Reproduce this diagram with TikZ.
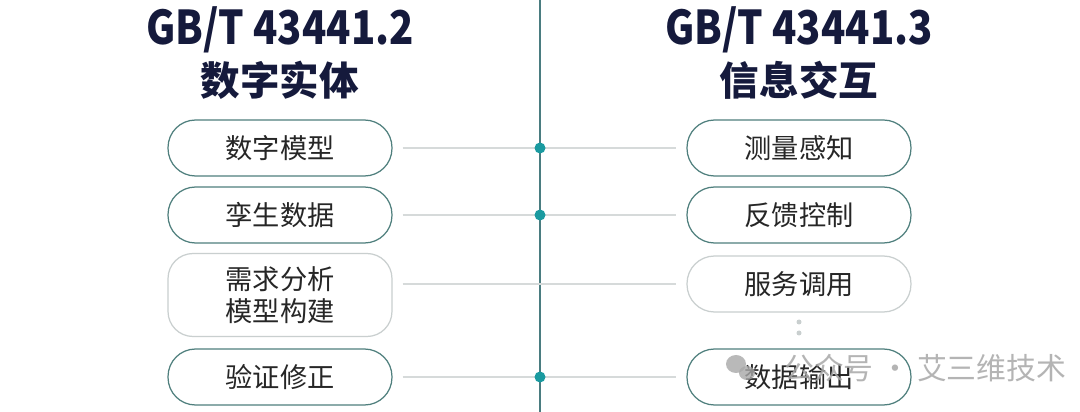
\documentclass[tikz,border=0pt]{standalone}
\usepackage{fontspec}
\newfontfamily\cjk{Noto Sans CJK SC}
\newfontfamily\titlefont{Noto Sans CJK SC}[FakeStretch=0.86]
\definecolor{navy}{HTML}{151A3C}
\definecolor{tealdot}{HTML}{1A9AA0}
\definecolor{axisline}{HTML}{4A7C80}
\definecolor{pillline}{HTML}{4F7F7D}
\definecolor{softline}{HTML}{C9CFCF}
\definecolor{linkline}{HTML}{D6DADA}
\definecolor{labeltext}{HTML}{262626}
\definecolor{markgray}{HTML}{A8A8A8}
\tikzset{
    pill/.style={draw=pillline, line width=0.7pt, fill=white, rounded corners=0.55cm,
        minimum width=4.48cm, minimum height=1.12cm, align=center,
        text=labeltext, font=\cjk\fontsize{15.5}{19}\selectfont},
    softpill/.style={pill, draw=softline},
    link/.style={linkline, line width=0.6pt, shorten <=0.2cm, shorten >=0.2cm},
    heading/.style={text=navy, align=center},
}
\begin{document}
\begin{tikzpicture}[x=0.02cm,y=-0.02cm]
    \useasboundingbox[fill=white] (0,0) rectangle (1080,412);
    %draw axis
    \coordinate (top) at (540,0);
    \coordinate (bottom) at (540,412);
    \draw [axisline, line width=0.8pt] (top) -- (bottom);
    %draw headings
    \node[heading, font=\titlefont\bfseries\fontsize{26.5}{30}\selectfont] (lt) at (280,30) {GB/T 43441.2};
    \node[heading, font=\cjk\bfseries\fontsize{22.5}{26}\selectfont] (lsub) at (280,80) {数字实体};
    \node[heading, font=\titlefont\bfseries\fontsize{26.5}{30}\selectfont] (rt) at (799,30) {GB/T 43441.3};
    \node[heading, font=\cjk\bfseries\fontsize{22.5}{26}\selectfont] (rsub) at (799,80) {信息交互};
    %draw left items
    \node[pill] (L1) at (280,148) {数字模型};
    \node[pill] (L2) at (280,215) {孪生数据};
    \node[softpill, minimum height=1.66cm, rounded corners=0.5cm] (L3) at (280,295) {需求分析\\[-1pt]模型构建};
    \node[pill] (L4) at (280,377) {验证修正};
    %draw right items
    \node[pill] (R1) at (799,148) {测量感知};
    \node[pill] (R2) at (799,215) {反馈控制};
    \node[softpill] (R3) at (799,284) {服务调用};
    \node[pill] (R4) at (799,377) {数据输出};
    %draw links
    \foreach \i in {1,2,4}
        {%
            \draw [link] (L\i.east) -- (R\i.west);
            \fill [tealdot] (top |- L\i) circle (5.5);
        }
    \draw [link] (L3.east |- R3.west) -- (R3.west);
    %draw ellipsis
    \foreach \y in {322,333}
        \fill [softline] (799,\y) circle (2.5);
    %watermark
    \fill [markgray, opacity=0.8] (736,364) ellipse (10 and 9);
    \fill [markgray, opacity=0.8] (747,373) ellipse (8 and 7);
    \node[text=markgray, opacity=0.85, font=\cjk\fontsize{17}{20}\selectfont, anchor=west] (mark) at (778,368) {公众号 · 艾三维技术};
\end{tikzpicture}
\end{document}
